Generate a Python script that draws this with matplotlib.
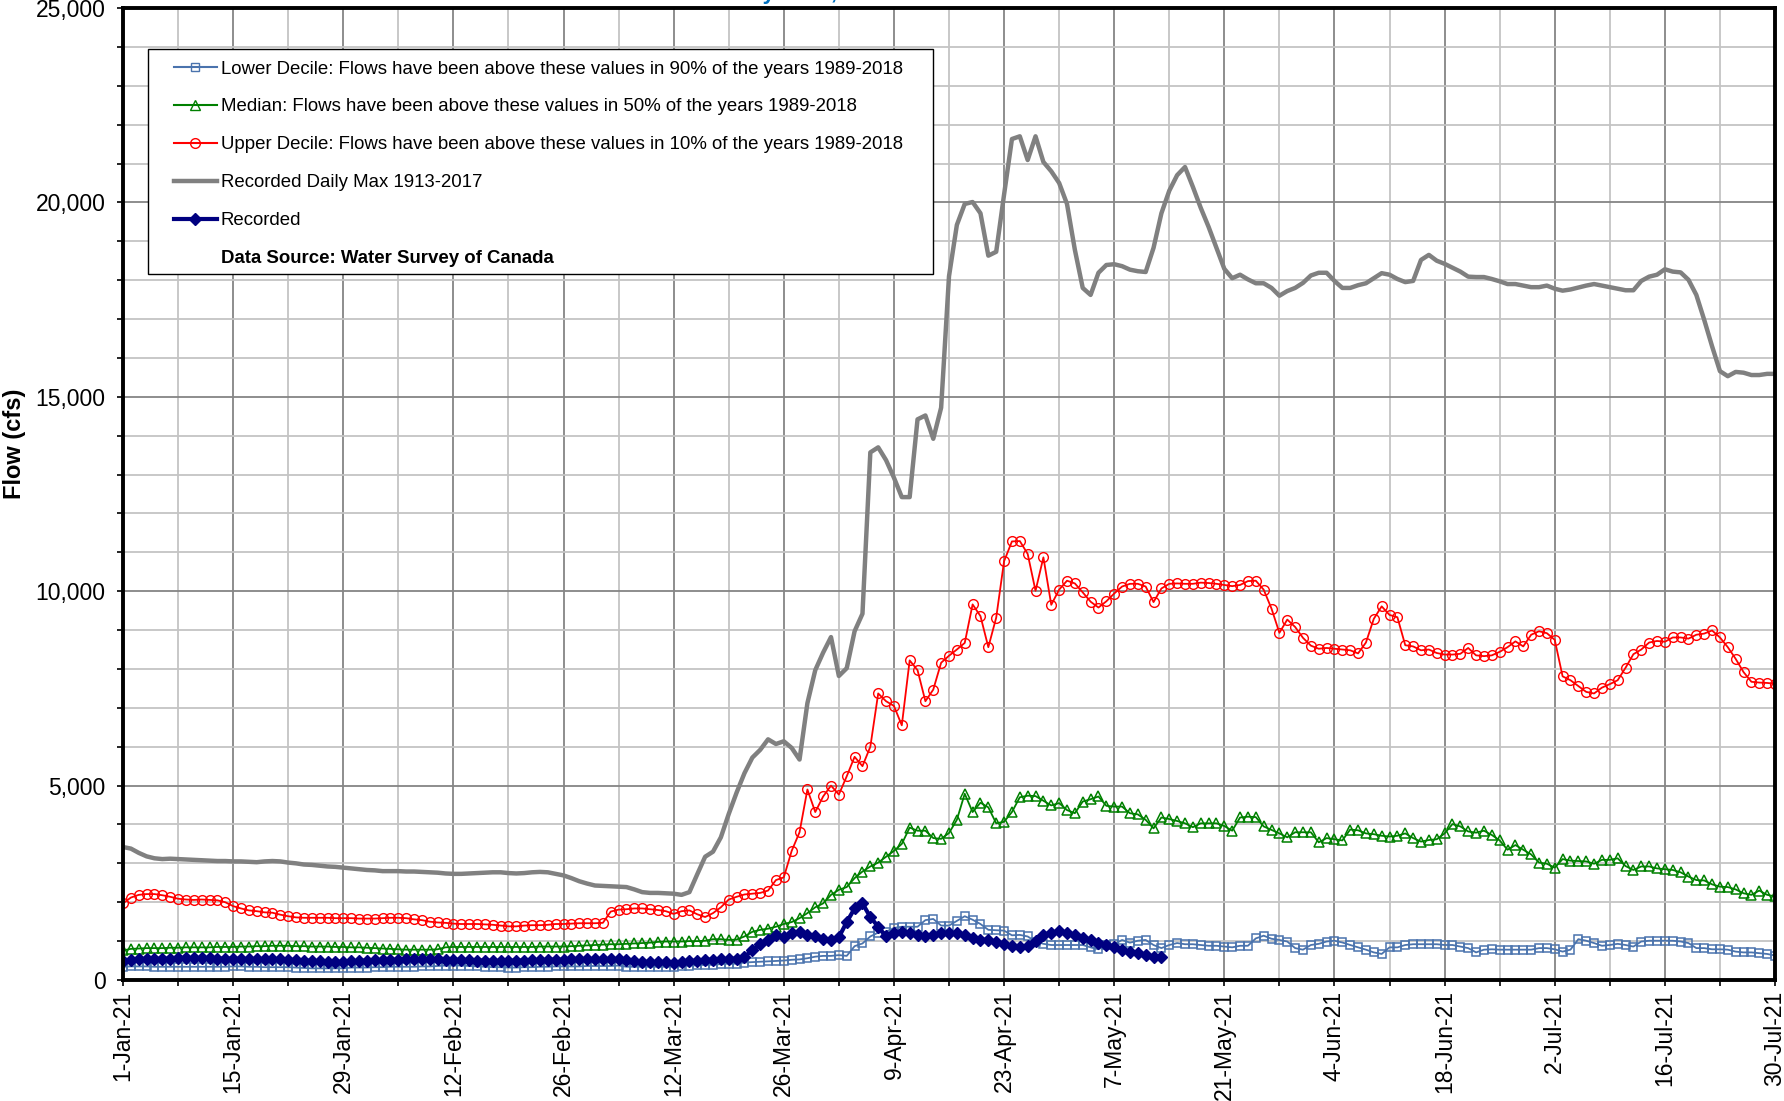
import matplotlib
matplotlib.use("Agg")
import matplotlib.pyplot as plt
from matplotlib.lines import Line2D
from matplotlib.patches import Rectangle
from matplotlib.ticker import MultipleLocator, FuncFormatter, FixedLocator

plt.rcParams['font.family'] = ['Liberation Sans', 'DejaVu Sans']

# Day index 0 = 1-Jan-21 ... 210 = 30-Jul-21
tick_labels = ['1-Jan-21', '15-Jan-21', '29-Jan-21', '12-Feb-21', '26-Feb-21',
               '12-Mar-21', '26-Mar-21', '9-Apr-21', '23-Apr-21', '7-May-21',
               '21-May-21', '4-Jun-21', '18-Jun-21', '2-Jul-21', '16-Jul-21',
               '30-Jul-21']

lower_decile = [
    340, 350, 350, 350, 340, 340, 340, 340, 340, 340,
    340, 340, 340, 340, 350, 350, 340, 340, 330, 330,
    330, 330, 320, 310, 300, 300, 300, 300, 300, 320,
    320, 320, 330, 330, 340, 340, 340, 340, 350, 350,
    360, 370, 370, 370, 360, 350, 340, 330, 330, 320,
    320, 330, 330, 340, 340, 350, 350, 350, 350, 360,
    360, 360, 360, 370, 340, 340, 340, 340, 340, 340,
    340, 350, 370, 380, 390, 390, 410, 420, 420, 450,
    460, 470, 480, 490, 500, 520, 530, 560, 600, 620,
    620, 640, 620, 870, 940, 1120, 1220, 1240, 1340, 1370,
    1370, 1370, 1540, 1570, 1400, 1400, 1520, 1640, 1550, 1440,
    1290, 1280, 1270, 1150, 1160, 1120, 990, 930, 900, 900,
    900, 900, 900, 840, 790, 900, 920, 1030, 960, 1010,
    1030, 900, 820, 900, 950, 920, 920, 900, 880, 880,
    860, 840, 880, 880, 1070, 1140, 1060, 1030, 990, 820,
    780, 900, 930, 990, 1010, 965, 900, 840, 780, 710,
    670, 840, 840, 900, 920, 920, 920, 920, 900, 900,
    860, 820, 710, 780, 790, 780, 780, 780, 780, 780,
    820, 820, 790, 730, 780, 1050, 1010, 950, 880, 900,
    930, 900, 860, 990, 1010, 1010, 1010, 1010, 990, 950,
    820, 820, 790, 790, 780, 730, 710, 710, 690, 670, 630]

median = [
    760, 800, 810, 820, 820, 820, 830, 830, 840, 840,
    840, 840, 850, 850, 850, 860, 860, 870, 870, 880,
    880, 880, 870, 870, 860, 860, 860, 850, 850, 840,
    840, 830, 820, 810, 800, 790, 780, 780, 780, 780,
    790, 840, 850, 850, 850, 850, 850, 850, 850, 850,
    850, 850, 850, 860, 860, 860, 860, 870, 880, 890,
    900, 910, 920, 920, 930, 940, 950, 960, 980, 990,
    990, 990, 1000, 1000, 1010, 1050, 1050, 1030, 1040, 1120,
    1240, 1290, 1320, 1370, 1440, 1490, 1590, 1720, 1870, 1970,
    2190, 2320, 2390, 2620, 2790, 2920, 3020, 3170, 3320, 3500,
    3920, 3840, 3840, 3650, 3630, 3780, 4120, 4790, 4320, 4560,
    4440, 4030, 4070, 4320, 4700, 4740, 4730, 4610, 4490, 4550,
    4370, 4290, 4590, 4650, 4720, 4480, 4460, 4460, 4290, 4260,
    4120, 3900, 4180, 4140, 4090, 4030, 3930, 4030, 4030, 4030,
    3960, 3840, 4180, 4200, 4190, 3950, 3860, 3770, 3670, 3800,
    3800, 3800, 3540, 3650, 3620, 3590, 3870, 3850, 3770, 3750,
    3710, 3690, 3710, 3770, 3650, 3560, 3600, 3620, 3770, 4010,
    3950, 3820, 3790, 3840, 3730, 3590, 3350, 3470, 3350, 3230,
    3020, 2990, 2890, 3110, 3070, 3060, 3050, 2990, 3090, 3090,
    3130, 2930, 2830, 2920, 2920, 2870, 2850, 2830, 2770, 2660,
    2570, 2560, 2460, 2400, 2390, 2330, 2230, 2190, 2300, 2190, 2150]

upper_decile = [
    1970, 2120, 2190, 2210, 2210, 2180, 2140, 2090, 2070, 2060,
    2070, 2060, 2050, 2000, 1900, 1840, 1790, 1770, 1740, 1730,
    1680, 1640, 1610, 1600, 1600, 1600, 1600, 1590, 1590, 1590,
    1580, 1580, 1580, 1590, 1600, 1600, 1590, 1560, 1540, 1500,
    1480, 1470, 1450, 1440, 1440, 1440, 1430, 1420, 1400, 1380,
    1380, 1400, 1410, 1410, 1420, 1440, 1440, 1450, 1460, 1460,
    1460, 1470, 1760, 1810, 1820, 1840, 1840, 1820, 1800, 1770,
    1700, 1770, 1790, 1690, 1620, 1720, 1870, 2070, 2140, 2200,
    2220, 2240, 2300, 2570, 2640, 3320, 3800, 4900, 4320, 4720,
    5000, 4770, 5240, 5740, 5500, 6000, 7370, 7170, 7050, 6550,
    8220, 7970, 7170, 7470, 8160, 8340, 8500, 8670, 9660, 9360,
    8560, 9320, 10770, 11280, 11290, 10960, 10010, 10870, 9650, 10040,
    10270, 10200, 9970, 9730, 9580, 9740, 9940, 10120, 10190, 10190,
    10120, 9720, 10070, 10190, 10200, 10190, 10190, 10220, 10210, 10190,
    10160, 10130, 10160, 10260, 10270, 10040, 9550, 8930, 9270, 9080,
    8800, 8600, 8520, 8540, 8520, 8500, 8480, 8400, 8680, 9290,
    9610, 9390, 9330, 8610, 8580, 8480, 8500, 8410, 8370, 8370,
    8390, 8540, 8350, 8330, 8350, 8440, 8560, 8710, 8580, 8880,
    8970, 8920, 8750, 7810, 7710, 7560, 7410, 7370, 7520, 7610,
    7710, 8030, 8380, 8500, 8680, 8720, 8700, 8810, 8810, 8780,
    8880, 8910, 8990, 8810, 8560, 8260, 7920, 7670, 7650, 7640, 7620]

daily_max = [
    3420, 3380, 3270, 3180, 3130, 3110, 3120, 3110, 3100, 3090,
    3080, 3070, 3060, 3060, 3050, 3050, 3040, 3030, 3050, 3060,
    3050, 3020, 3000, 2970, 2960, 2940, 2920, 2910, 2890, 2870,
    2850, 2830, 2820, 2800, 2800, 2800, 2790, 2790, 2780, 2770,
    2760, 2740, 2730, 2730, 2740, 2750, 2760, 2770, 2770, 2750,
    2740, 2750, 2770, 2780, 2770, 2730, 2690, 2620, 2540, 2480,
    2430, 2420, 2410, 2400, 2390, 2330, 2260, 2240, 2240, 2230,
    2220, 2190, 2260, 2720, 3170, 3300, 3670, 4270, 4820, 5320,
    5720, 5920, 6190, 6070, 6140, 5970, 5670, 7120, 7970, 8420,
    8820, 7820, 8020, 8970, 9420, 13570, 13700, 13370, 12920, 12420,
    12420, 14420, 14520, 13920, 14720, 18100, 19420, 19960, 20010, 19720,
    18630, 18730, 20200, 21630, 21700, 21090, 21700, 21040, 20800, 20500,
    19960, 18780, 17800, 17620, 18190, 18390, 18410, 18360, 18270, 18230,
    18210, 18830, 19720, 20300, 20700, 20910, 20400, 19860, 19370, 18830,
    18290, 18050, 18140, 18020, 17920, 17920, 17800, 17600, 17720, 17800,
    17930, 18120, 18190, 18190, 17980, 17800, 17800, 17870, 17920, 18050,
    18180, 18140, 18030, 17950, 17980, 18520, 18650, 18500, 18420, 18320,
    18220, 18090, 18080, 18080, 18030, 17970, 17900, 17900, 17860, 17820,
    17820, 17860, 17780, 17730, 17760, 17810, 17860, 17900, 17860, 17820,
    17780, 17740, 17740, 17980, 18090, 18140, 18280, 18220, 18200, 18010,
    17620, 16980, 16300, 15660, 15530, 15640, 15620, 15560, 15560, 15590, 15590]

recorded = [
    500, 520, 530, 540, 540, 550, 550, 560, 560, 560,
    560, 560, 550, 550, 550, 540, 540, 540, 530, 530,
    530, 520, 510, 500, 490, 480, 470, 470, 470, 480,
    490, 500, 510, 510, 520, 520, 530, 530, 530, 530,
    530, 520, 520, 510, 510, 500, 500, 490, 490, 490,
    500, 500, 510, 510, 520, 520, 520, 530, 530, 530,
    530, 530, 540, 540, 520, 490, 470, 460, 460, 460,
    450, 470, 480, 500, 520, 520, 540, 540, 550, 590,
    770, 920, 1040, 1170, 1100, 1200, 1240, 1170, 1120, 1050,
    1020, 1100, 1490, 1840, 1970, 1620, 1370, 1120, 1220, 1240,
    1220, 1170, 1120, 1170, 1220, 1210, 1200, 1150, 1080, 1040,
    1030, 980, 930, 870, 840, 880, 1010, 1160, 1220, 1250,
    1220, 1160, 1090, 1030, 960, 900, 840, 780, 710, 690,
    650, 600, 580]

labels = ['Lower Decile: Flows have been above these values in 90% of the years 1989-2018',
          'Median: Flows have been above these values in 50% of the years 1989-2018',
          'Upper Decile: Flows have been above these values in 10% of the years 1989-2018',
          'Recorded Daily Max 1913-2017',
          'Recorded',
          'Data Source: Water Survey of Canada']

W, H = 1784, 1101
fig = plt.figure(figsize=(W / 100, H / 100), dpi=100)
ax = fig.add_axes([123 / W, 121 / H, (1775 - 123) / W, (980 - 8) / H])

days = list(range(len(daily_max)))
rec_days = list(range(len(recorded)))

c_low, c_med, c_up, c_max, c_rec = '#4A73AD', '#008000', '#FF0000', '#808080', '#000080'

ax.plot(days, lower_decile, color=c_low, lw=1.3, marker='s', ms=6.2,
        mfc='none', mec=c_low, mew=1.1, zorder=3)
ax.plot(days, median, color=c_med, lw=1.3, marker='^', ms=6.5,
        mfc='none', mec=c_med, mew=1.1, zorder=3)
ax.plot(days, upper_decile, color=c_up, lw=1.3, marker='o', ms=7.0,
        mfc='none', mec=c_up, mew=1.0, zorder=3)
ax.plot(days, daily_max, color=c_max, lw=3.2, zorder=3)
ax.plot(rec_days, recorded, color=c_rec, lw=3.0, marker='D', ms=6.5,
        mfc=c_rec, mec=c_rec, zorder=4)

ax.set_xlim(0, 210)
ax.set_ylim(0, 25000)

ax.xaxis.set_major_locator(FixedLocator(list(range(0, 211, 14))))
ax.xaxis.set_minor_locator(FixedLocator(list(range(7, 211, 14))))
ax.set_xticklabels(tick_labels, rotation=90, fontsize=16.5)
ax.yaxis.set_major_locator(MultipleLocator(5000))
ax.yaxis.set_minor_locator(MultipleLocator(1000))
ax.yaxis.set_major_formatter(FuncFormatter(lambda v, p: f'{int(v):,}'))
for lab in ax.get_yticklabels():
    lab.set_fontsize(16.5)

ax.tick_params(which='both', direction='out', length=4.5, width=1.2, color='black')
ax.tick_params(axis='x', pad=3)
ax.tick_params(axis='y', pad=8)

ax.grid(which='major', color='#858585', lw=1.3, zorder=0)
ax.grid(which='minor', color='#C4C4C4', lw=1.3, zorder=0)
ax.set_axisbelow(True)
for s in ax.spines.values():
    s.set_linewidth(2.8)
    s.set_color('black')
    s.set_zorder(6)

fig.text(15 / W, 1 - 444 / H, 'Flow (cfs)', rotation=90, ha='center', va='center',
         fontsize=17, fontweight='bold')

fig.text(722 / W, 1.0 + 1 / H, 'Daily Flow, 2021', color='#0070C0', fontsize=16,
         fontweight='bold', ha='left', va='baseline')

# legend box and entries
box = Rectangle((148 / W, 1 - 274 / H), (933 - 148) / W, (274 - 49) / H,
                transform=fig.transFigure, facecolor='white', edgecolor='black',
                lw=1.0, zorder=7)
fig.patches.append(box)

handles = [
    Line2D([], [], color=c_low, lw=1.5, marker='s', ms=6.2, mfc='none', mec=c_low),
    Line2D([], [], color=c_med, lw=1.5, marker='^', ms=6.5, mfc='none', mec=c_med),
    Line2D([], [], color=c_up, lw=1.5, marker='o', ms=7.0, mfc='none', mec=c_up),
    Line2D([], [], color=c_max, lw=3.2),
    Line2D([], [], color=c_rec, lw=3.0, marker='D', ms=6.5, mfc=c_rec, mec=c_rec),
    Line2D([], [], linestyle='none'),
]
leg = fig.legend(handles, labels, loc='upper left',
                 bbox_to_anchor=(174 / W, 1 - 60.5 / H), frameon=False,
                 fontsize=13.4, numpoints=1, handlelength=2.3, handletextpad=0.2,
                 labelspacing=1.12, borderpad=0, borderaxespad=0)
leg.set_zorder(8)
leg.get_texts()[5].set_fontweight('bold')

fig.savefig('out.png', dpi=100)
